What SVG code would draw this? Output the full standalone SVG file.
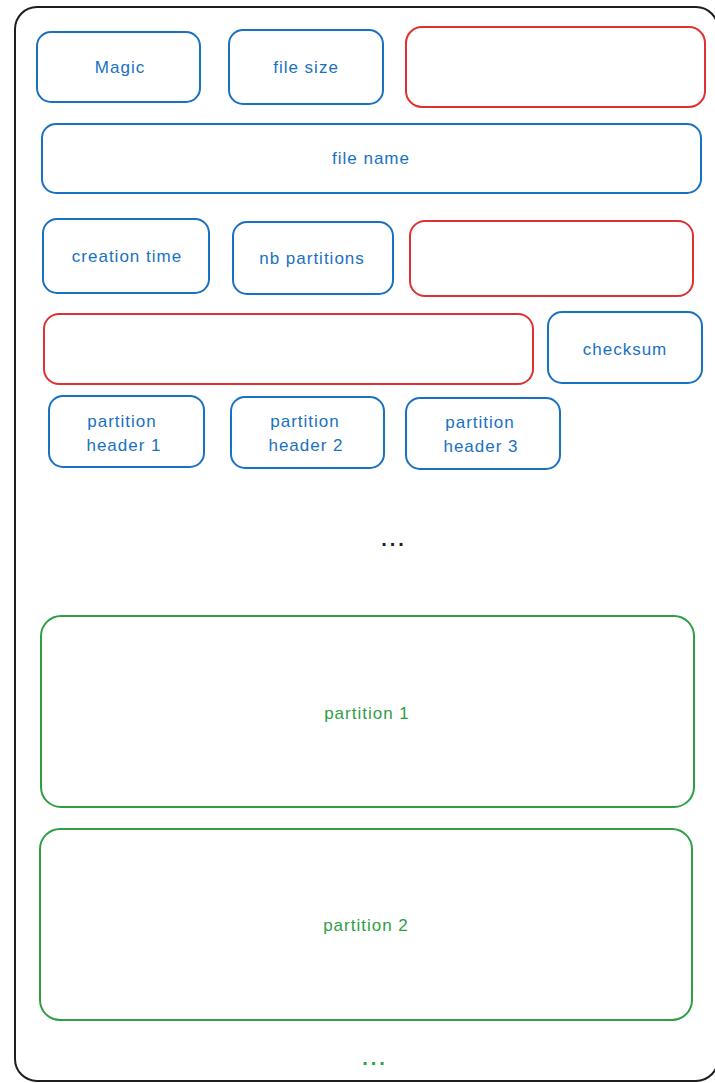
<svg xmlns="http://www.w3.org/2000/svg" width="715" height="1083" viewBox="0 0 715 1083">
<style>
  .frame{fill:none;stroke:#1e1e1e;stroke-width:2}
  .b{fill:#fff;stroke:#1971c2;stroke-width:2}
  .r{fill:#fff;stroke:#e03131;stroke-width:2}
  .g{fill:#fff;stroke:#2f9e44;stroke-width:2}
  text{font-family:"Liberation Sans","DejaVu Sans",sans-serif;font-size:17px;text-anchor:middle;dominant-baseline:central;letter-spacing:1px}
  .tb{fill:#1971c2}
  .tg{fill:#2f9e44}
  .dots{font-weight:bold;font-size:20px;letter-spacing:3px}
  .tk{fill:#1e1e1e}
</style>
<rect width="715" height="1083" fill="#fff"/>
<rect class="frame" x="15" y="7" width="703" height="1074" rx="22"/>
<g id="magic"><rect class="b" x="37" y="32" width="163" height="70" rx="14"/><text class="tb" x="120" y="67">Magic</text></g>
<g id="filesize"><rect class="b" x="229" y="30" width="154" height="74" rx="14"/><text class="tb" x="306" y="67">file size</text></g>
<g id="reserved1"><rect class="r" x="406" y="27" width="299" height="80" rx="16"/></g>
<g id="filename"><rect class="b" x="42" y="124" width="659" height="69" rx="14"/><text class="tb" x="371" y="158">file name</text></g>
<g id="creationtime"><rect class="b" x="43" y="219" width="166" height="74" rx="14"/><text class="tb" x="127" y="256">creation time</text></g>
<g id="nbpartitions"><rect class="b" x="233" y="222" width="160" height="72" rx="14"/><text class="tb" x="312" y="258">nb partitions</text></g>
<g id="reserved2"><rect class="r" x="410" y="221" width="283" height="75" rx="15"/></g>
<g id="reserved3"><rect class="r" x="44" y="314" width="489" height="70" rx="15"/></g>
<g id="checksum"><rect class="b" x="548" y="312" width="154" height="71" rx="14"/><text class="tb" x="625" y="349">checksum</text></g>
<g id="ph1"><rect class="b" x="49" y="396" width="155" height="71" rx="14"/><text class="tb" x="122" y="421">partition</text><text class="tb" x="124" y="445">header 1</text></g>
<g id="ph2"><rect class="b" x="231" y="397" width="153" height="71" rx="14"/><text class="tb" x="305" y="421">partition</text><text class="tb" x="306" y="445">header 2</text></g>
<g id="ph3"><rect class="b" x="406" y="398" width="154" height="71" rx="14"/><text class="tb" x="480" y="422">partition</text><text class="tb" x="481" y="446">header 3</text></g>
<g id="dots1"><text class="tk dots" x="394" y="539">...</text></g>
<g id="partition1"><rect class="g" x="41" y="616" width="653" height="191" rx="20"/><text class="tg" x="367" y="713">partition 1</text></g>
<g id="partition2"><rect class="g" x="40" y="829" width="652" height="191" rx="20"/><text class="tg" x="366" y="925">partition 2</text></g>
<g id="dots2"><text class="tg dots" x="375" y="1058">...</text></g>
<g id="connectors"></g>
</svg>
